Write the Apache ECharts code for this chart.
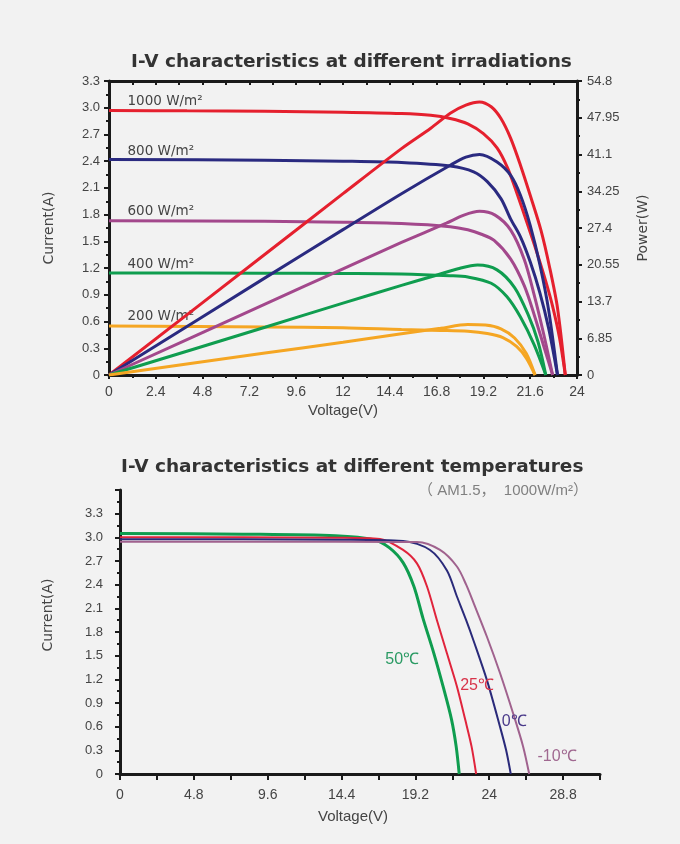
<!DOCTYPE html>
<html><head><meta charset="utf-8">
<script src="https://cdn.jsdelivr.net/npm/echarts@6/dist/echarts.min.js"></script>
<style>html,body{margin:0;padding:0;background:#f2f2f2}#c{width:680px;height:844px}</style>
</head><body><div id="c"></div>
<script>
// ---------- Top chart: irradiation ----------
const irrLabels = ['1000 W/m²', '800 W/m²', '600 W/m²', '400 W/m²', '200 W/m²'];
const irrLabelPos = [[0.95, 3.075], [0.95, 2.514], [0.95, 1.83], [0.95, 1.235], [0.95, 0.662]];

const iv1000V = [0, 4, 8, 12, 15, 16.5, 17.5, 18.4, 19.2, 19.9, 20.45, 20.95, 21.45, 21.95, 22.4, 22.75, 23.1, 23.4];
const iv1000I = [2.97, 2.965, 2.96, 2.95, 2.935, 2.915, 2.88, 2.82, 2.71, 2.55, 2.32, 2.02, 1.70, 1.37, 1.05, 0.77, 0.42, 0];
const p1000V = [0, 8, 12, 15, 16.5, 17.5, 18.3, 19.0, 19.6, 20.1, 20.6, 21.1, 21.6, 22.15, 22.6, 23.0, 23.4];
const p1000P = [0, 22.5, 33.8, 42.2, 46.0, 48.8, 50.3, 50.9, 50.0, 47.8, 44.1, 39.1, 33.5, 27.0, 20.0, 12.5, 0];

const iv800V = [0, 8, 12, 15, 17.5, 18.7, 19.4, 20.1, 20.6, 21.1, 21.6, 22.1, 22.55, 23.0];
const iv800I = [2.42, 2.41, 2.40, 2.385, 2.345, 2.28, 2.17, 1.98, 1.75, 1.55, 1.27, 0.92, 0.52, 0];
const p800V = [0, 8, 12, 15, 17.5, 18.3, 19.0, 19.9, 20.6, 21.1, 21.6, 22.1, 22.55, 23.0];
const p800P = [0, 18.1, 27.1, 33.8, 39.1, 40.6, 41.1, 39.7, 37.2, 33.5, 27.9, 20.5, 12.0, 0];

const iv600V = [0, 8, 12, 15, 17.5, 18.4, 19.1, 19.75, 20.6, 21.3, 21.8, 22.3, 22.75];
const iv600I = [1.73, 1.725, 1.715, 1.70, 1.665, 1.63, 1.58, 1.51, 1.30, 1.00, 0.68, 0.32, 0];
const p600V = [0, 8, 12, 15, 17.3, 18.2, 19.0, 19.8, 20.6, 21.3, 21.8, 22.3, 22.75];
const p600P = [0, 13.2, 19.8, 24.7, 28.3, 29.8, 30.5, 29.8, 27.0, 21.5, 15.0, 7.5, 0];

const iv400V = [0, 8, 12, 15, 17.5, 18.4, 19.6, 20.4, 21.1, 21.8, 22.4];
const iv400I = [1.145, 1.143, 1.14, 1.135, 1.115, 1.10, 1.03, 0.88, 0.65, 0.34, 0];
const p400V = [0, 8, 12, 15, 16.7, 17.9, 18.9, 19.9, 20.8, 21.5, 22.0, 22.4];
const p400P = [0, 8.9, 13.4, 16.7, 18.5, 19.8, 20.5, 19.6, 16.3, 11.2, 6.2, 0];

const iv200V = [0, 8, 12, 15, 17, 18.4, 19.4, 20.2, 20.9, 21.4, 21.85];
const iv200I = [0.55, 0.54, 0.53, 0.51, 0.50, 0.49, 0.465, 0.42, 0.32, 0.19, 0];
const p200V = [0, 8, 12, 15, 17, 18.4, 19.3, 20.1, 20.8, 21.4, 21.85];
const p200P = [0, 4.1, 6.1, 7.7, 8.7, 9.4, 9.3, 8.6, 6.9, 4.0, 0];

const irrColors = ['#e5202e', '#2a2a80', '#a3488c', '#0f9d4f', '#f5a623'];

// ---------- Bottom chart: temperature ----------
const tempLabels = ['50℃', '25℃', '0℃', '-10℃'];
const tempLabelPos = [[18.34, 1.447], [23.21, 1.117], [25.62, 0.66], [28.41, 0.216]];
const t50V = [0, 8, 14, 16.5, 17.5, 18.4, 19.1, 19.7, 20.4, 21.0, 21.55, 21.85, 22.05];
const t50I = [3.05, 3.04, 3.02, 2.97, 2.87, 2.68, 2.38, 1.97, 1.53, 1.11, 0.69, 0.35, 0];
const t25V = [0, 8, 14, 16.9, 18.4, 19.3, 19.95, 20.6, 21.25, 21.9, 22.45, 22.85, 23.15];
const t25I = [3.0, 3.0, 2.995, 2.98, 2.84, 2.67, 2.38, 1.95, 1.53, 1.11, 0.68, 0.35, 0];
const t0V = [0, 8, 14, 18.4, 20.15, 21.25, 21.9, 22.5, 23.0, 23.85, 24.7, 25.1, 25.4];
const t0I = [2.975, 2.975, 2.97, 2.955, 2.84, 2.58, 2.25, 1.95, 1.68, 1.19, 0.60, 0.30, 0];
const tm10V = [0, 8, 14, 19.3, 20.8, 21.9, 22.5, 23.0, 23.85, 24.7, 25.55, 26.2, 26.6];
const tm10I = [2.945, 2.945, 2.945, 2.94, 2.84, 2.63, 2.40, 2.16, 1.74, 1.28, 0.77, 0.35, 0];
const tempColors = ['#0f9d4f', '#e0243c', '#2a2a7a', '#a0628e'];
const tempLabelColors = ['#2a9a63', '#d8344a', '#4a3a8a', '#a06890'];
const tempWidths = [3, 2, 2, 2];

// ---------- build ----------
function pairs(xs, ys) { return xs.map((x, i) => [x, ys[i]]); }
const fmt1 = v => (v === 0 ? '0' : v.toFixed(1));
const fmtN = v => String(parseFloat(v.toFixed(2)));
const AX = '#1a1a1a';
const labelFont = "'Liberation Sans', Arial, sans-serif";
const narrowFont = "'Liberation Sans Narrow', 'Liberation Sans', sans-serif";
const nameFont = "'DejaVu Sans', sans-serif";
const SM = 0.3;

const ivSets = [[iv1000V, iv1000I], [iv800V, iv800I], [iv600V, iv600I], [iv400V, iv400I], [iv200V, iv200I]];
const pSets = [[p1000V, p1000P], [p800V, p800P], [p600V, p600P], [p400V, p400P], [p200V, p200P]];
const tSets = [[t50V, t50I], [t25V, t25I], [t0V, t0I], [tm10V, tm10I]];

const series = [];
ivSets.forEach((s, k) => {
  series.push({
    name: irrLabels[k] + ' I', type: 'line', xAxisIndex: 0, yAxisIndex: 0,
    data: pairs(s[0], s[1]), showSymbol: false, smooth: SM,
    lineStyle: { color: irrColors[k], width: 3 }, itemStyle: { color: irrColors[k] },
    markPoint: {
      z: 1, symbol: 'circle', symbolSize: 0, silent: true,
      data: [{ coord: irrLabelPos[k], value: irrLabels[k] }],
      label: { show: true, position: 'right', distance: 0, formatter: irrLabels[k],
        color: '#444', fontFamily: nameFont, fontSize: 13.5 }
    }
  });
});
pSets.forEach((s, k) => {
  series.push({
    name: irrLabels[k] + ' P', type: 'line', xAxisIndex: 0, yAxisIndex: 1,
    data: pairs(s[0], s[1]), showSymbol: false, smooth: SM,
    lineStyle: { color: irrColors[k], width: 3 }, itemStyle: { color: irrColors[k] }
  });
});
tSets.forEach((s, k) => {
  series.push({
    name: tempLabels[k], type: 'line', xAxisIndex: 2, yAxisIndex: 2,
    data: pairs(s[0], s[1]), showSymbol: false, smooth: SM,
    lineStyle: { color: tempColors[k], width: tempWidths[k] }, itemStyle: { color: tempColors[k] },
    markPoint: {
      symbol: 'circle', symbolSize: 0, silent: true,
      data: [{ coord: tempLabelPos[k], value: tempLabels[k] }],
      label: { show: true, position: 'inside', formatter: tempLabels[k],
        color: tempLabelColors[k], fontFamily: labelFont, fontSize: 16 }
    }
  });
});

const axLine = { onZero: false, lineStyle: { color: AX, width: 3 } };
const tick = (len, inside) => ({ show: true, inside: !!inside, length: len, lineStyle: { color: AX, width: 2 } });
const minor = (len) => ({ show: true, splitNumber: 2, length: len, lineStyle: { color: AX, width: 2 } });

const option = {
  backgroundColor: '#f2f2f2',
  animation: false,
  title: [
    { text: 'I-V characteristics at different irradiations', left: 131, top: 53, padding: 0,
      textStyle: { fontFamily: nameFont, fontWeight: 'bold', fontSize: 18.5, color: '#333' } },
    { text: 'I-V characteristics at different temperatures', left: 121, top: 458, padding: 0,
      textStyle: { fontFamily: nameFont, fontWeight: 'bold', fontSize: 18.5, color: '#333' } },
    { text: '（ AM1.5，  1000W/m²）', right: 92, top: 483, padding: 0,
      textStyle: { fontFamily: "'Liberation Sans', 'Noto Sans CJK SC', sans-serif", fontWeight: 'normal', fontSize: 15, color: '#808080' } }
  ],
  grid: [
    { left: 109, right: 103, top: 81, bottom: 469 },
    { left: 120, right: 80, top: 490, bottom: 70 }
  ],
  xAxis: [
    { gridIndex: 0, type: 'value', min: 0, max: 24, interval: 2.4, position: 'bottom',
      axisLine: axLine, axisTick: tick(4), minorTick: minor(3), splitLine: { show: false },
      axisLabel: { margin: 10, color: '#444', fontFamily: narrowFont, fontSize: 14, formatter: fmtN },
      name: 'Voltage(V)', nameLocation: 'middle', nameGap: 28,
      nameTextStyle: { color: '#444', fontFamily: narrowFont, fontSize: 15 } },
    { gridIndex: 0, type: 'value', min: 0, max: 24, interval: 1.2, position: 'top',
      axisLine: axLine, axisTick: tick(4, true), splitLine: { show: false }, axisLabel: { show: false } },
    { gridIndex: 1, type: 'value', min: 0, max: 31.2, interval: 2.4, position: 'bottom',
      axisLine: axLine, axisTick: tick(6), splitLine: { show: false },
      axisLabel: { margin: 14, color: '#444', fontFamily: narrowFont, fontSize: 14,
        formatter: v => (Math.round(v / 2.4) % 2 === 0 && v < 30 ? fmtN(v) : '') },
      name: 'Voltage(V)', nameLocation: 'middle', nameGap: 35,
      nameTextStyle: { color: '#444', fontFamily: narrowFont, fontSize: 15, padding: [0, 14, 0, 0] } }
  ],
  yAxis: [
    { gridIndex: 0, type: 'value', min: 0, max: 3.3, interval: 0.3, position: 'left',
      axisLine: axLine, axisTick: tick(5), minorTick: minor(3), splitLine: { show: false },
      axisLabel: { margin: 9, color: '#444', fontFamily: labelFont, fontSize: 13, formatter: fmt1 },
      name: 'Current(A)', nameLocation: 'middle', nameGap: 53, nameRotate: 90,
      nameTextStyle: { color: '#444', fontFamily: nameFont, fontSize: 14 } },
    { gridIndex: 0, type: 'value', min: 0, max: 54.8, interval: 6.85, position: 'right',
      axisLine: axLine, axisTick: tick(5), minorTick: minor(3), splitLine: { show: false },
      axisLabel: { margin: 10, color: '#444', fontFamily: labelFont, fontSize: 13, formatter: fmtN },
      name: 'Power(W)', nameLocation: 'middle', nameGap: 59, nameRotate: 90,
      nameTextStyle: { color: '#444', fontFamily: nameFont, fontSize: 14 } },
    { gridIndex: 1, type: 'value', min: 0, max: 3.6, interval: 0.3, position: 'left',
      axisLine: axLine, axisTick: tick(5), minorTick: minor(3), splitLine: { show: false },
      axisLabel: { margin: 17, color: '#444', fontFamily: labelFont, fontSize: 13,
        formatter: v => (v > 3.45 ? '' : fmt1(v)) },
      name: 'Current(A)', nameLocation: 'middle', nameGap: 65, nameRotate: 90,
      nameTextStyle: { color: '#444', fontFamily: nameFont, fontSize: 14, padding: [0, 0, 0, 34] } }
  ],
  series: series
};
const chart = echarts.init(document.getElementById('c'));
chart.setOption(option);
</script></body></html>
